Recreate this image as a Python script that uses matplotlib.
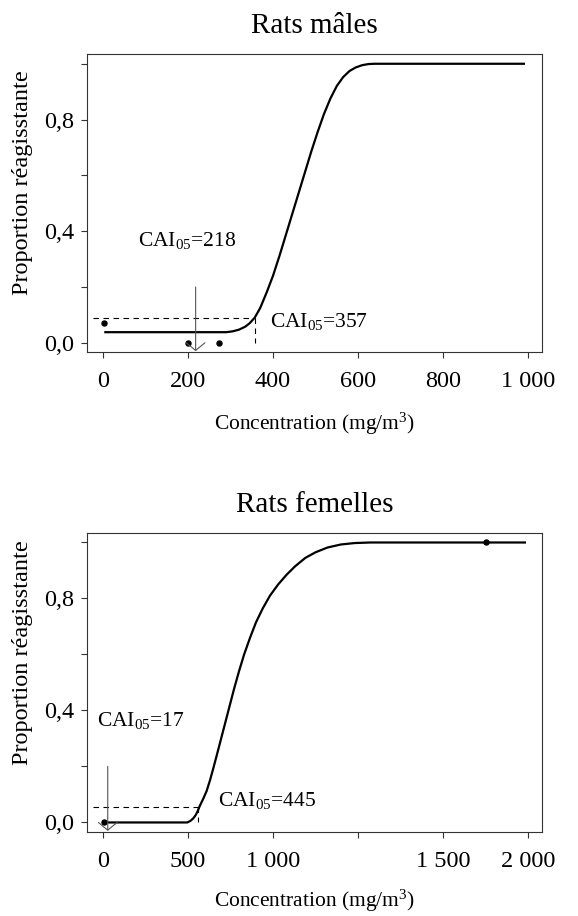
import numpy as np
import matplotlib.pyplot as plt

plt.rcParams['font.family'] = ['Liberation Serif', 'DejaVu Serif']
plt.rcParams['mathtext.fontset'] = 'custom'
plt.rcParams['mathtext.rm'] = 'Liberation Serif'
plt.rcParams['mathtext.it'] = 'Liberation Serif:italic'

# Rats mâles
m_dose = [3, 200, 273]
m_resp = [0.07, 0.0, 0.0]
m_curve_x = [3, 290, 305, 320, 335, 345, 357, 370, 385, 400, 416, 430, 445,
             460, 475, 490, 505, 520, 535, 550, 565, 580, 595, 610, 625, 640, 993]
m_curve_y = [0.038, 0.038, 0.041, 0.047, 0.058, 0.07, 0.09, 0.125, 0.18, 0.24,
             0.315, 0.385, 0.46, 0.535, 0.61, 0.685, 0.755, 0.82, 0.875, 0.92,
             0.952, 0.974, 0.987, 0.995, 0.999, 1.0, 1.0]
m_cai_low = 218
m_cai_high = 357
m_cai_level = 0.09
m_xticks = [0, 200, 400, 600, 800, 1000]
m_xlabels = ['0', '200', '400', '600', '800', '1 000']

# Rats femelles
f_dose = [5, 2253]
f_resp = [0.0, 1.0]
f_curve_x = [5, 496, 515, 530, 545, 558, 570, 590, 610, 630, 650, 680, 710,
             740, 770, 800, 830, 865, 900, 940, 982, 1030, 1080, 1130, 1190,
             1250, 1320, 1400, 1480, 1571, 2488]
f_curve_y = [0.0, 0.0, 0.006, 0.014, 0.026, 0.042, 0.06, 0.085, 0.113, 0.152,
             0.196, 0.265, 0.335, 0.405, 0.475, 0.54, 0.60, 0.66, 0.715, 0.765,
             0.81, 0.85, 0.885, 0.915, 0.945, 0.965, 0.982, 0.993, 0.998, 1.0,
             1.0]
f_cai_low = 17
f_cai_low_pos = 28
f_cai_high = 445
f_cai_high_pos = 561
f_cai_level = 0.057
f_xticks = [0, 500, 1000, 1500, 2000, 2500]
f_xlabels = ['0', '500', '1 000', '', '1 500', '2 000']

yticks = [0.0, 0.2, 0.4, 0.6, 0.8, 1.0]
ylabels = ['0,0', '', '0,4', '', '0,8', '']

W, H = 578, 916
fig = plt.figure(figsize=(W / 100, H / 100), dpi=100)
ax1 = fig.add_axes([87 / W, 1 - 352 / H, 455 / W, 298 / H])
ax2 = fig.add_axes([87 / W, 1 - 831.7 / H, 455 / W, 299 / H])


def draw_panel(ax, title, dose, resp, cx, cy, low, low_pos, high, high_pos,
               level, low_txt, high_txt, xticks, xlabels, xlim, xlab_y, ylab_y):
	ax.plot(cx, cy, color='black', lw=1.6, solid_capstyle='butt',
	        solid_joinstyle='round')
	ax.plot(dose, resp, 'o', color='black', ms=3.6)
	ax.plot([xlim[0] + (xlim[1] - xlim[0]) * 0.014, high_pos], [level, level],
	        color='black', lw=0.8, ls=(0, (5, 4)))
	ax.plot([high_pos, high_pos], [level, 0.0], color='black', lw=0.8,
	        ls=(0, (5, 4)))
	ax.annotate('', xy=(low_pos, -0.03), xytext=(low_pos, 0.20),
	            arrowprops=dict(arrowstyle='->,head_length=0.55,head_width=0.67',
	                            color='#555555', lw=0.8, shrinkA=0, shrinkB=0,
	                            mutation_scale=10))
	ax.text(low_txt[0], low_txt[1], r'CAI$_{\rm 05}$=' + str(low), fontsize=15.5,
	        ha='left', va='baseline')
	ax.text(high_txt[0], high_txt[1], r'CAI$_{\rm 05}$=' + str(high),
	        fontsize=15.5, ha='left', va='baseline')

	ax.set_xlim(xlim)
	ax.set_ylim(-0.033, 1.035)
	ax.set_xticks(xticks)
	ax.set_xticklabels(xlabels)
	ax.set_yticks(yticks)
	ax.set_yticklabels(ylabels)
	ax.tick_params(labelsize=17.5, length=4.5, width=0.8, color='#333333')
	ax.tick_params(axis='x', pad=9.5)
	ax.tick_params(axis='y', pad=4.5)
	for s in ax.spines.values():
		s.set_color('#333333')
		s.set_linewidth(0.8)

	ax.set_title(title, fontsize=21, pad=15)
	ax.set_xlabel(r'Concentration (mg/m$^{\rm 3}$)', fontsize=15.5)
	ax.xaxis.set_label_coords(0.5, xlab_y)
	ax.set_ylabel('Proportion réagisstante', fontsize=17.5)
	ax.yaxis.set_label_coords(-0.119, ylab_y)


draw_panel(ax1, 'Rats mâles', m_dose, m_resp, m_curve_x, m_curve_y,
           m_cai_low, m_cai_low, m_cai_high, m_cai_high, m_cai_level,
           (82, 0.347), (393, 0.056), m_xticks, m_xlabels, (-37.6, 1033),
           -0.198, 0.57)
draw_panel(ax2, 'Rats femelles', f_dose, f_resp, f_curve_x, f_curve_y,
           f_cai_low, f_cai_low_pos, f_cai_high, f_cai_high_pos, f_cai_level,
           (-37, 0.346), (678, 0.059), f_xticks, f_xlabels, (-94, 2582),
           -0.188, 0.60)

plt.savefig('out.png', dpi=100)
